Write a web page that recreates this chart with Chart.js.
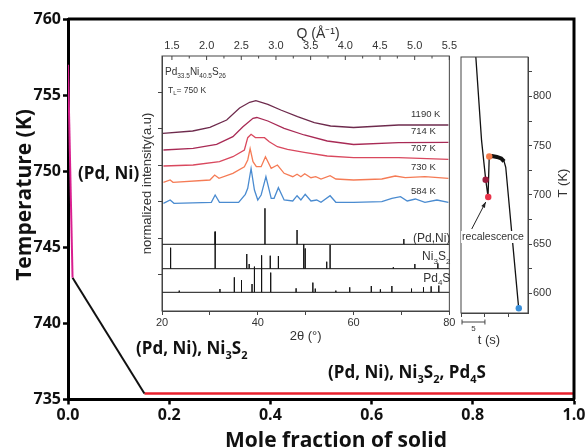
<!DOCTYPE html>
<html>
<head>
<meta charset="utf-8">
<script src="https://cdn.jsdelivr.net/npm/chart.js@4.4.0/dist/chart.umd.min.js"></script>
<style>
html, body { margin: 0; padding: 0; background: #fff; }
#wrap { position: relative; width: 588px; height: 448px; overflow: hidden; }
canvas { position: absolute; }
#main { left: 0; top: 0; }
#xrd { left: 140px; top: 21px; }
#tt { left: 452px; top: 21px; }
</style>
</head>
<body>
<div id="wrap">
  <canvas id="main" width="588" height="448"></canvas>
  <canvas id="xrd" width="320" height="324"></canvas>
  <canvas id="tt" width="120" height="330"></canvas>
</div>
<script>
// ---- main diagram: temperature vs mole fraction of solid ----
var moleLiq = [0.0, 0.009];
var tempLiq = [757.0, 743.0];
var moleBin = [0.009, 0.151];
var tempBin = [743.0, 735.4];
var moleTer = [0.151, 1.0];
var tempTer = [735.4, 735.4];
var moleTicks = [0, 0.2, 0.4, 0.6, 0.8, 1.0];
var tempTicks = [735, 740, 745, 750, 755, 760];

// ---- inset: XRD patterns (2theta, normalized intensity) ----
var tt1190 = [20.2, 26.4, 30.0, 33.5, 36.2, 38.3, 39.6, 42.1, 44.8, 48.3, 51.8, 55.2, 60.0, 69.4, 79.8];
var in1190 = [177.7, 180, 183.7, 191, 203, 208.7, 210.3, 206.7, 201, 194.3, 188.3, 185, 183.5, 186, 186];
var tt714 = [20.3, 26.5, 31.4, 34.8, 36.9, 39.0, 39.8, 42.1, 45.5, 49.7, 54.5, 60.0, 69.4, 79.8];
var in714 = [161, 162.7, 166.7, 174.3, 184.3, 192.7, 193.5, 190, 182.7, 176, 170, 166.5, 168.3, 168.7];
var tt707 = [20.3, 26.5, 32.0, 34.8, 37.2, 37.9, 38.6, 39.5, 41.4, 42.4, 44.1, 46.2, 49.7, 54.5, 60.0, 69.4, 79.8];
var in707 = [145, 146, 149.3, 154.3, 161, 173.3, 176.7, 173.5, 173.3, 169.3, 164.3, 161.7, 158.7, 155, 153.3, 153.3, 151.7];
var tt730 = [20.3, 21.7, 22.3, 30.0, 31.0, 31.9, 34.8, 37.2, 37.9, 38.4, 39.0, 39.7, 40.7, 41.6, 42.8, 44.1, 45.5, 47.3, 48.2, 49.0, 49.8, 51.1, 52.1, 53.2, 55.1, 56.3, 60.0, 65.9, 68.7, 70.8, 74.9, 79.8];
var in730 = [128.7, 131, 128.7, 131, 136, 132.7, 137.7, 144.3, 151, 162.5, 149.3, 144.3, 144.3, 154.3, 142.7, 146, 137.7, 134.3, 136.7, 134.3, 137.3, 133.3, 134.3, 132, 135.3, 132, 131, 132, 135, 133.3, 134.3, 132.7];
var tt584 = [20.3, 21.7, 22.5, 30.3, 31.1, 32.0, 36.0, 37.4, 37.9, 38.6, 39.3, 40.0, 40.7, 41.7, 42.8, 43.4, 44.3, 45.5, 47.3, 48.2, 49.0, 49.9, 51.1, 52.3, 53.2, 55.1, 56.3, 60.0, 65.9, 68.0, 69.8, 71.2, 72.9, 74.9, 77.4, 79.8];
var in584 = [107.7, 111, 107.7, 108.7, 116, 108.7, 108.7, 116.7, 122.7, 142.5, 121, 111, 116, 134.3, 112.7, 112.7, 123.3, 111, 110, 115.3, 111, 116.7, 110, 111, 108.7, 115.3, 108.7, 108.7, 109.3, 112.7, 114.3, 110, 112, 108.7, 111, 108.7];
var serNames = ['1190 K', '714 K', '707 K', '730 K', '584 K'];
var serColors = ['#6e2b4d', '#a82a55', '#d9485e', '#f57b55', '#4a8bd0'];

// reference stick patterns
var pdniPos = [31.1, 41.5, 48.2, 70.5];
var pdniH = [12.7, 36, 14.3, 5.3];
var ni3s2Pos = [21.8, 31.1, 37.7, 38.2, 42.6, 44.3, 49.6, 49.9, 54.4, 55.1, 68.3, 72.8, 77.6];
var ni3s2H = [21, 37, 14.7, 4.7, 13, 12.7, 24.7, 20.3, 7, 23.7, 1.5, 4.7, 5.3];
var pd4sPos = [23.6, 32.1, 35.1, 36.6, 38.8, 39.3, 40.8, 42.7, 48.0, 51.5, 52.0, 56.3, 59.2, 63.7, 65.6, 68.0, 72.1, 74.6, 76.2, 77.8];
var pd4sH = [1.7, 3.3, 15, 12.3, 8.3, 25.7, 37, 19.7, 4, 9.7, 3.7, 1.7, 5, 6.3, 3, 6.3, 3.7, 5, 6, 6.7];
var stickBase = [66.7, 42.3, 18.7];
var thetaTicks = [20, 30, 40, 50, 60, 70, 80];
var qTicks = [1.5, 1.75, 2.0, 2.25, 2.5, 2.75, 3.0, 3.25, 3.5, 3.75, 4.0, 4.25, 4.5, 4.75, 5.0, 5.25, 5.5];
var intTicks = [36.5, 73, 109.5, 146, 182.5, 219];

// ---- inset: temperature vs time ----
var timeS = [3.1, 4.3, 5.15, 5.65, 5.9, 6.5, 7.5, 8.4, 9.0, 9.35, 12.05];
var tempK = [840, 755, 716, 698, 739, 739.5, 738.5, 737, 734, 728, 585];
var plateauS = [5.95, 6.5, 7.5, 8.4, 9.0];
var plateauK = [739, 739.5, 738.5, 737, 734];
var markS = [5.15, 5.69, 5.9, 12.08];
var markK = [715.4, 697.8, 739, 584.8];
var markColors = ['#9b1b3d', '#e8334a', '#f57b4a', '#3a8fd9'];
var tTicksK = [600, 625, 650, 675, 700, 725, 750, 775, 800, 825];
var timeTicks = [0, 5, 10];

function pts(xs, ys) {
    return xs.map(function (x, i) { return { x: x, y: ys[i] }; });
}
function stickPoints(pos, h, base) {
    var p = [{ x: 20, y: base }];
    pos.forEach(function (x, i) {
        p.push({ x: x, y: base }, { x: x, y: base + h[i] }, { x: x, y: base });
    });
    p.push({ x: 80, y: base });
    return p;
}
// text with subscripts: runs = [[text, isSub], ...]
function drawRuns(ctx, x, y, runs, size, subSize, family, weight, align) {
    var w = 0;
    runs.forEach(function (r) {
        ctx.font = weight + ' ' + (r[1] ? subSize : size) + 'px ' + family;
        w += ctx.measureText(r[0]).width;
    });
    var cx = align === 'right' ? x - w : x;
    ctx.textAlign = 'left';
    ctx.textBaseline = 'alphabetic';
    runs.forEach(function (r) {
        ctx.font = weight + ' ' + (r[1] ? subSize : size) + 'px ' + family;
        ctx.fillText(r[0], cx, r[1] ? y + size * 0.28 : y);
        cx += ctx.measureText(r[0]).width;
    });
}

var boldFont = { family: 'Open Sans', size: 16, weight: 'bold' };
var thinFamily = "'Liberation Sans', Arial, sans-serif";

// main chart decorations
var mainDeco = {
    id: 'mainDeco',
    afterDraw: function (chart) {
        var ctx = chart.ctx, a = chart.chartArea;
        ctx.save();
        ctx.strokeStyle = '#000';
        ctx.lineWidth = 3;
        ctx.beginPath();
        ctx.moveTo(a.left, a.top);
        ctx.lineTo(a.right, a.top);
        ctx.lineTo(a.right, a.bottom);
        ctx.stroke();
        ctx.fillStyle = '#111';
        // axis titles
        ctx.font = "bold 21px 'Open Sans'";
        ctx.textAlign = 'center';
        ctx.textBaseline = 'alphabetic';
        ctx.fillText('Mole fraction of solid', 336, 447);
        ctx.translate(25, 195);
        ctx.rotate(-Math.PI / 2);
        ctx.textBaseline = 'middle';
        ctx.fillText('Temperature (K)', 0, 0);
        ctx.restore();
        ctx.save();
        ctx.fillStyle = '#111';
        drawRuns(ctx, 78, 179, [['(Pd, Ni)', 0]], 17, 11, "'Open Sans'", 'bold');
        drawRuns(ctx, 136, 354, [['(Pd, Ni), Ni', 0], ['3', 1], ['S', 0], ['2', 1]], 17, 11, "'Open Sans'", 'bold');
        drawRuns(ctx, 328, 378, [['(Pd, Ni), Ni', 0], ['3', 1], ['S', 0], ['2', 1], [', Pd', 0], ['4', 1], ['S', 0]], 17, 11, "'Open Sans'", 'bold');
        ctx.restore();
    }
};

new Chart(document.getElementById('main'), {
    type: 'line',
    data: {
        datasets: [
            { data: pts(moleLiq, tempLiq), borderColor: '#d91f8f', borderWidth: 2 },
            { data: pts(moleBin, tempBin), borderColor: '#111', borderWidth: 2 },
            { data: pts(moleTer, tempTer), borderColor: '#e8202c', borderWidth: 2.5 }
        ]
    },
    options: {
        responsive: false,
        animation: false,
        devicePixelRatio: 1,
        layout: { padding: { left: 0, right: 14, top: 19, bottom: 0 } },
        elements: { point: { radius: 0 }, line: { tension: 0 } },
        plugins: { legend: { display: false }, tooltip: { enabled: false } },
        scales: {
            x: {
                type: 'linear', min: 0, max: 1,
                afterBuildTicks: function (s) { s.ticks = moleTicks.map(function (v) { return { value: v }; }); },
                afterFit: function (s) { s.height = 48.5; },
                ticks: { font: boldFont, color: '#111', padding: 1, maxRotation: 0, autoSkip: false,
                         callback: function (v) { return v.toFixed(1); } },
                grid: { drawOnChartArea: false, tickLength: 5, tickWidth: 2.5, tickColor: '#000' },
                border: { color: '#000', width: 3 }
            },
            y: {
                min: 735, max: 760,
                afterBuildTicks: function (s) { s.ticks = tempTicks.map(function (v) { return { value: v }; }); },
                afterFit: function (s) { s.width = 68; },
                ticks: { font: boldFont, color: '#111', padding: 2 },
                grid: { drawOnChartArea: false, tickLength: 5, tickWidth: 2.5, tickColor: '#000' },
                border: { color: '#000', width: 3 }
            }
        }
    },
    plugins: [mainDeco]
});

// XRD inset decorations
var xrdDeco = {
    id: 'xrdDeco',
    afterDraw: function (chart) {
        var ctx = chart.ctx, a = chart.chartArea;
        var xs = chart.scales.x, ys = chart.scales.y, qs = chart.scales.q;
        ctx.save();
        ctx.strokeStyle = '#444';
        ctx.lineWidth = 1;
        ctx.strokeRect(a.left, a.top, a.right - a.left, a.bottom - a.top);
        ctx.beginPath();
        qTicks.forEach(function (v, i) {
            var px = qs.getPixelForValue(v);
            ctx.moveTo(px, a.top);
            ctx.lineTo(px, a.top + (i % 2 === 0 ? 4 : 2.5));
        });
        ctx.stroke();
        ctx.fillStyle = '#333';
        ctx.font = '14px ' + thinFamily;
        ctx.textAlign = 'center';
        ctx.textBaseline = 'middle';
        ctx.fillText('Q (Å⁻¹)', 178, 13);
        drawRuns(ctx, 25, 54, [['Pd', 0], ['33.5', 1], ['Ni', 0], ['40.5', 1], ['S', 0], ['26', 1]], 10, 6.5, thinFamily, 'normal');
        drawRuns(ctx, 28, 72, [['T', 0], ['L', 1], ['= 750 K', 0]], 8.5, 6, thinFamily, 'normal');
        var lasts = [in1190, in714, in707, in730, in584];
        ctx.font = '9.5px ' + thinFamily;
        ctx.textAlign = 'left';
        lasts.forEach(function (arr, i) {
            ctx.fillText(serNames[i], xs.getPixelForValue(72), ys.getPixelForValue(arr[arr.length - 1]) - 8);
        });
        drawRuns(ctx, a.right + 1, ys.getPixelForValue(stickBase[0]) - 2.5, [['(Pd,Ni)', 0]], 12, 8, thinFamily, 'normal', 'right');
        drawRuns(ctx, a.right + 1, ys.getPixelForValue(stickBase[1]) - 8.5, [['Ni', 0], ['3', 1], ['S', 0], ['2', 1]], 12, 8, thinFamily, 'normal', 'right');
        drawRuns(ctx, a.right + 1, ys.getPixelForValue(stickBase[2]) - 10.5, [['Pd', 0], ['4', 1], ['S', 0]], 12, 8, thinFamily, 'normal', 'right');
        ctx.restore();
    }
};

var smallFont = { family: thinFamily, size: 11 };
var xrdSets = [[tt1190, in1190], [tt714, in714], [tt707, in707], [tt730, in730], [tt584, in584]].map(function (s, i) {
    return { data: pts(s[0], s[1]), borderColor: serColors[i], borderWidth: 1.3 };
});
[[pdniPos, pdniH], [ni3s2Pos, ni3s2H], [pd4sPos, pd4sH]].forEach(function (s, i) {
    xrdSets.push({ data: stickPoints(s[0], s[1], stickBase[i]), borderColor: '#111', borderWidth: 1 });
});

new Chart(document.getElementById('xrd'), {
    type: 'line',
    data: { datasets: xrdSets },
    options: {
        responsive: false,
        animation: false,
        devicePixelRatio: 1,
        layout: { padding: { left: 0, right: 9, top: 0, bottom: 0 } },
        elements: { point: { radius: 0 }, line: { tension: 0 } },
        plugins: { legend: { display: false }, tooltip: { enabled: false } },
        scales: {
            x: {
                type: 'linear', position: 'bottom', min: 20, max: 80,
                afterBuildTicks: function (s) { s.ticks = thetaTicks.map(function (v) { return { value: v }; }); },
                afterFit: function (s) { s.height = 34; },
                ticks: { font: smallFont, color: '#333', padding: 1, maxRotation: 0, autoSkip: false,
                         callback: function (v) { return v % 20 === 0 ? String(v) : ''; } },
                grid: { drawOnChartArea: false, tickLength: 4, color: '#444' },
                border: { color: '#444' },
                title: { display: true, text: '2θ (°)', font: { family: thinFamily, size: 13 }, color: '#333', padding: { top: 0, bottom: 1 } }
            },
            q: {
                type: 'linear', position: 'top', min: 1.357, max: 5.5,
                afterBuildTicks: function (s) { s.ticks = qTicks.map(function (v) { return { value: v }; }); },
                afterFit: function (s) { s.height = 35; },
                ticks: { font: smallFont, color: '#333', padding: 3, maxRotation: 0, autoSkip: false,
                         callback: function (v) { return Math.round(v * 100) % 50 === 0 ? v.toFixed(1) : ''; } },
                grid: { drawOnChartArea: false, drawTicks: false },
                border: { display: false }
            },
            y: {
                min: 0, max: 255,
                afterBuildTicks: function (s) { s.ticks = intTicks.map(function (v) { return { value: v }; }); },
                afterFit: function (s) { s.width = 22; },
                ticks: { display: false },
                grid: { drawOnChartArea: false, tickLength: 4, color: '#444' },
                border: { color: '#444' },
                title: { display: true, text: 'normalized intensity(a.u)', font: { family: thinFamily, size: 13 }, color: '#333', padding: { top: 0, bottom: 0 } }
            }
        }
    },
    plugins: [xrdDeco]
});

// T-t inset decorations
var ttDeco = {
    id: 'ttDeco',
    afterDraw: function (chart) {
        var ctx = chart.ctx, a = chart.chartArea;
        var xs = chart.scales.x, ys = chart.scales.y;
        ctx.save();
        ctx.strokeStyle = '#444';
        ctx.lineWidth = 1;
        ctx.strokeRect(a.left, a.top, a.right - a.left, a.bottom - a.top);
        // scale bar for 5 s
        var x0 = xs.getPixelForValue(0) + 1, x5 = xs.getPixelForValue(5), yb = a.bottom + 9;
        ctx.beginPath();
        ctx.moveTo(x0, yb); ctx.lineTo(x5, yb);
        ctx.moveTo(x0, yb - 2.5); ctx.lineTo(x0, yb + 2.5);
        ctx.moveTo(x5, yb - 2.5); ctx.lineTo(x5, yb + 2.5);
        ctx.stroke();
        ctx.fillStyle = '#333';
        ctx.textAlign = 'center';
        ctx.textBaseline = 'middle';
        ctx.font = '8px ' + thinFamily;
        ctx.fillText('5', (x0 + x5) / 2, yb + 7);
        ctx.font = '13px ' + thinFamily;
        ctx.fillText('t (s)', 37, 319);
        // recalescence label and arrow
        var tipX = xs.getPixelForValue(markS[1]) - 2.5, tipY = ys.getPixelForValue(markK[1]) + 5;
        ctx.font = '10.5px ' + thinFamily;
        var lw = ctx.measureText('recalescence').width;
        ctx.fillStyle = '#fff';
        ctx.fillRect(41 - lw / 2 - 1, 210, lw + 2, 12);
        ctx.fillStyle = '#333';
        ctx.fillText('recalescence', 41, 216);
        var tailX = tipX - 14, tailY = tipY + 27;
        ctx.strokeStyle = '#222';
        ctx.beginPath();
        ctx.moveTo(tailX, tailY); ctx.lineTo(tipX, tipY);
        ctx.stroke();
        var ang = Math.atan2(tipY - tailY, tipX - tailX);
        ctx.fillStyle = '#222';
        ctx.beginPath();
        ctx.moveTo(tipX, tipY);
        ctx.lineTo(tipX - 6 * Math.cos(ang - 0.35), tipY - 6 * Math.sin(ang - 0.35));
        ctx.lineTo(tipX - 6 * Math.cos(ang + 0.35), tipY - 6 * Math.sin(ang + 0.35));
        ctx.closePath();
        ctx.fill();
        // right axis title, reading upward
        ctx.fillStyle = '#333';
        ctx.font = '13px ' + thinFamily;
        ctx.translate(111, 162);
        ctx.rotate(-Math.PI / 2);
        ctx.fillText('T (K)', 0, 0);
        ctx.restore();
    }
};

new Chart(document.getElementById('tt'), {
    type: 'line',
    data: {
        datasets: [
            { data: pts(markS, markK), showLine: false, pointRadius: 3.2, pointBackgroundColor: markColors, pointBorderWidth: 0 },
            { data: pts(plateauS, plateauK), borderColor: '#111', borderWidth: 4, pointRadius: 0 },
            { data: pts(timeS, tempK), borderColor: '#111', borderWidth: 1.3, pointRadius: 0 }
        ]
    },
    options: {
        responsive: false,
        animation: false,
        devicePixelRatio: 1,
        layout: { padding: { left: 9, right: 0, top: 36, bottom: 0 } },
        elements: { line: { tension: 0 } },
        plugins: { legend: { display: false }, tooltip: { enabled: false } },
        scales: {
            x: {
                type: 'linear', min: 0, max: 14,
                afterBuildTicks: function (s) { s.ticks = timeTicks.map(function (v) { return { value: v }; }); },
                afterFit: function (s) { s.height = 38; },
                ticks: { callback: function () { return ''; } },
                grid: { drawOnChartArea: false, tickLength: 4, color: '#444' },
                border: { color: '#444' }
            },
            y: {
                position: 'right', min: 580, max: 840,
                afterBuildTicks: function (s) { s.ticks = tTicksK.map(function (v) { return { value: v }; }); },
                afterFit: function (s) { s.width = 44; },
                ticks: { font: smallFont, color: '#333', padding: 1,
                         callback: function (v) { return v % 50 === 0 ? String(v) : ''; } },
                grid: { drawOnChartArea: false, tickLength: 4, color: '#444' },
                border: { color: '#444' }
            }
        }
    },
    plugins: [ttDeco]
});
</script>
</body>
</html>
